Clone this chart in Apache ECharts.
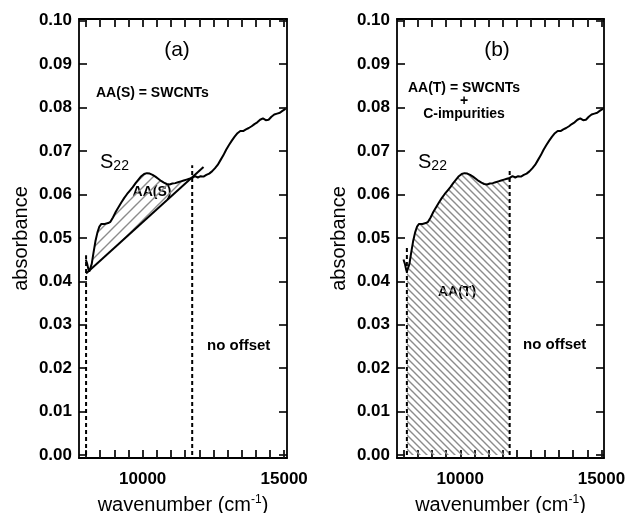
<!DOCTYPE html>
<html><head><meta charset="utf-8">
<script src="https://cdn.jsdelivr.net/npm/echarts@6/dist/echarts.min.js"></script>
<style>html,body{margin:0;padding:0;background:#fff}#c{width:627px;height:513px}</style>
</head><body><div id="c"></div>
<script>
// ---- data ----
const wavenumber = [7990,8040,8080,8110,8150,8200,8260,8330,8400,8470,8540,8600,8660,8720,8780,8860,8950,9050,9150,9250,9350,9450,9550,9650,9750,9850,9950,10050,10150,10250,10350,10450,10550,10650,10750,10850,10950,11050,11150,11250,11350,11450,11550,11650,11750,11850,11950,12050,12150,12250,12350,12450,12550,12650,12750,12850,12950,13050,13150,13250,13350,13450,13550,13650,13750,13850,13950,14050,14150,14250,14350,14450,14550,14650,14750,14850,14950,15050];
const absorbance = [0.0450,0.0440,0.0428,0.0422,0.0425,0.0440,0.0465,0.0492,0.0512,0.0526,0.0532,0.0536,0.0532,0.0530,0.0534,0.0537,0.0547,0.0560,0.0571,0.0582,0.0592,0.0601,0.0609,0.0617,0.0626,0.0634,0.0642,0.0647,0.0649,0.0648,0.0645,0.0641,0.0636,0.0631,0.0627,0.0624,0.0623,0.0625,0.0626,0.0628,0.0630,0.0632,0.0634,0.0636,0.0638,0.0642,0.0639,0.0642,0.0641,0.0645,0.0648,0.0653,0.0660,0.0668,0.0679,0.0690,0.0703,0.0714,0.0724,0.0733,0.0741,0.0746,0.0746,0.0750,0.0753,0.0757,0.0762,0.0766,0.0772,0.0775,0.0771,0.0772,0.0779,0.0784,0.0786,0.0788,0.0793,0.0797];
const yTicks = [0,0.01,0.02,0.03,0.04,0.05,0.06,0.07,0.08,0.09,0.10];
const xLabels = [10000,15000];
const xTicks = [8000,8500,9000,9500,10000,10500,11000,11500,12000,12500,13000,13500,14000,14500,15000];
const baselineX = [8000,12150];
const baselineY = [0.0418,0.0663];
const dashAX = [8000,11750];
const dashATop = [0.046,0.0667];
const dashBX = [8110,11750];
const dashBTop = [0.048,0.0659];
const hatchARange = [8110,11750];
const hatchBRange = [8110,11750];

// ---- helpers ----
const FONT = '"Liberation Sans", Arial, Helvetica, sans-serif';
const curve = wavenumber.map((x,i)=>[x,absorbance[i]]);
const bAt = x => baselineY[0] + (x-baselineX[0])*(baselineY[1]-baselineY[0])/(baselineX[1]-baselineX[0]);

function hatch(p, dir, color, lw){
  const c = document.createElement('canvas'); c.width=p; c.height=p;
  const g = c.getContext('2d'); g.strokeStyle=color; g.lineWidth=lw; g.beginPath();
  if(dir>0){ for(const k of [0,p,2*p]){ g.moveTo(k-p-1,p+1); g.lineTo(k+1,-1);} }
  else { for(const k of [-p,0,p]){ g.moveTo(-1,-1+k); g.lineTo(p+1,p+1+k);} }
  g.stroke();
  return {image:c, repeat:'repeat'};
}
const patA = hatch(11, 1, '#8c8c8c', 1.4);
const patB = hatch(7, -1, '#8c8c8c', 1.4);

const polyA = curve.filter(p=>p[0]>=hatchARange[0]&&p[0]<=hatchARange[1])
  .concat([[hatchARange[1], bAt(hatchARange[1])],[hatchARange[0], bAt(hatchARange[0])]]);
const polyB = curve.filter(p=>p[0]>=hatchBRange[0]&&p[0]<=hatchBRange[1])
  .concat([[hatchBRange[1],0],[hatchBRange[0],0]]);

const lineW = 1.8;
function tick(len, vals, w, col){ return {show:true, inside:true, length:len, customValues:vals, lineStyle:{color:col||'#000', width:w||1.6}}; }
function xAxes(g, xmin, xmax){
  const base = {type:'value', gridIndex:g, min:xmin, max:xmax, splitLine:{show:false},
    axisLine:{show:true, onZero:false, lineStyle:{color:'#000', width:lineW}}};
  return [
    Object.assign({}, base, {position:'bottom',
      name:'wavenumber (cm{sup|-1})', nameLocation:'middle', nameGap:36,
      nameTextStyle:{fontFamily:FONT, fontSize:20, color:'#000',
        rich:{sup:{fontFamily:FONT, fontSize:12, color:'#000', verticalAlign:'bottom', padding:[0,0,11,0]}}},
      axisTick:tick(8, xTicks, 1.8, '#111'),
      axisLabel:{customValues:xLabels, fontFamily:FONT, fontSize:17, fontWeight:'bold', color:'#000', margin:13,
        formatter:v=>String(v)}}),
    Object.assign({}, base, {position:'top', axisTick:tick(8, xTicks, 1.8, '#111'), axisLabel:{show:false}})
  ];
}
function yAxes(g){
  const base = {type:'value', gridIndex:g, min:-0.0007, max:0.1004, splitLine:{show:false},
    axisLine:{show:true, onZero:false, lineStyle:{color:'#000', width:lineW}}};
  return [
    Object.assign({}, base, {position:'left',
      name:'absorbance', nameLocation:'middle', nameGap:48,
      nameTextStyle:{fontFamily:FONT, fontSize:20, color:'#000'},
      axisTick:tick(8, yTicks),
      axisLabel:{customValues:yTicks, fontFamily:FONT, fontSize:17, fontWeight:'bold', color:'#000', margin:7,
        formatter:v=>Number(v).toFixed(2)}}),
    Object.assign({}, base, {position:'right', axisTick:tick(8, yTicks), axisLabel:{show:false}})
  ];
}
const blk = {color:'#000', width:2};
const dash = {color:'#000', width:2, type:[4,3]};
function lineS(xi, yi, data, style, z){
  return {type:'line', xAxisIndex:xi, yAxisIndex:yi, data:data, showSymbol:false, symbol:'none',
    lineStyle:style, z:z||3, silent:true};
}
function polyS(xi, yi, poly, pat){
  return {type:'custom', xAxisIndex:xi, yAxisIndex:yi, data:[[poly[0][0], poly[0][1]]], z:1, silent:true,
    renderItem:(params, api)=>({type:'polygon', shape:{points:poly.map(p=>api.coord(p))},
      style:{fill:pat, stroke:null}})};
}

const txt = (x,y,text,o)=>({type:'text', x:x, y:y, style:Object.assign({text:text, fontFamily:FONT, fill:'#000'}, o)});
const subRich = {sub:{fontFamily:FONT, fontSize:14, fill:'#000', padding:[8,0,0,0], verticalAlign:'top'}};

const chart = echarts.init(document.getElementById('c'), null, {renderer:'canvas'});
chart.setOption({
  animation:false,
  backgroundColor:'#fff',
  grid:[
    {left:79, right:340, top:19, bottom:55, outerBoundsMode:'none'},
    {left:397, right:23, top:19, bottom:55, outerBoundsMode:'none'}
  ],
  xAxis: xAxes(0, 7750, 15100).concat(xAxes(1, 7760, 15090)),
  yAxis: yAxes(0).concat(yAxes(1)),
  series:[
    polyS(0,0,polyA,patA),
    lineS(0,0,curve,blk),
    lineS(0,0,[[baselineX[0],baselineY[0]],[baselineX[1],baselineY[1]]],blk),
    lineS(0,0,[[dashAX[0],0],[dashAX[0],dashATop[0]]],dash),
    lineS(0,0,[[dashAX[1],0],[dashAX[1],dashATop[1]]],dash),
    polyS(2,2,polyB,patB),
    lineS(2,2,curve,blk),
    lineS(2,2,[[dashBX[0],0],[dashBX[0],dashBTop[0]]],dash),
    lineS(2,2,[[dashBX[1],0],[dashBX[1],dashBTop[1]]],dash)
  ],
  graphic:[
    txt(177,50,'(a)',{fontSize:21, align:'center', verticalAlign:'middle'}),
    txt(96,93,'AA(S) = SWCNTs',{fontSize:14, fontWeight:'bold', align:'left', verticalAlign:'middle'}),
    txt(100,162,'S{sub|22}',{fontSize:20, align:'left', verticalAlign:'middle', rich:subRich}),
    txt(152,192,'AA(S)',{fontSize:14, fontWeight:'bold', align:'center', verticalAlign:'middle'}),
    txt(207,346,'no offset',{fontSize:15, fontWeight:'bold', align:'left', verticalAlign:'middle'}),
    txt(497,50,'(b)',{fontSize:21, align:'center', verticalAlign:'middle'}),
    txt(464,88,'AA(T) = SWCNTs',{fontSize:14, fontWeight:'bold', align:'center', verticalAlign:'middle'}),
    txt(464,101,'+',{fontSize:14, fontWeight:'bold', align:'center', verticalAlign:'middle'}),
    txt(464,114,'C-impurities',{fontSize:14, fontWeight:'bold', align:'center', verticalAlign:'middle'}),
    txt(418,162,'S{sub|22}',{fontSize:20, align:'left', verticalAlign:'middle', rich:subRich}),
    txt(457,292,'AA(T)',{fontSize:14, fontWeight:'bold', align:'center', verticalAlign:'middle'}),
    txt(523,345,'no offset',{fontSize:15, fontWeight:'bold', align:'left', verticalAlign:'middle'})
  ]
});
</script></body></html>
